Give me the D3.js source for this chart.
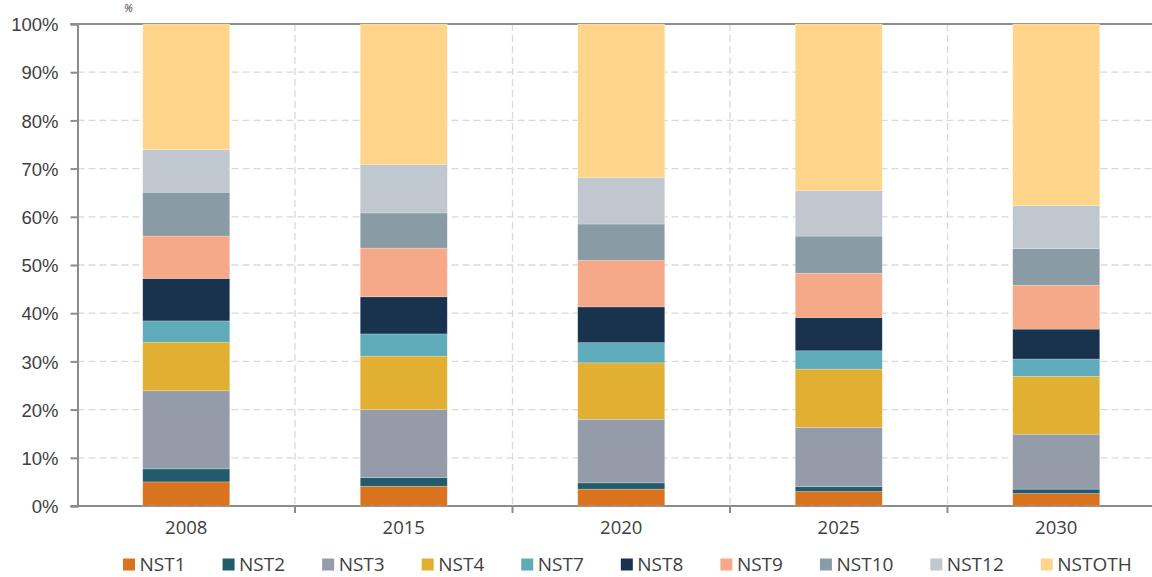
<!DOCTYPE html>
<html>
<head>
<meta charset="utf-8">
<script src="https://cdn.jsdelivr.net/npm/d3@7"></script>
<style>
  body { margin: 0; background: #fff; }
  svg { display: block; font-family: "Open Sans", sans-serif; }
</style>
</head>
<body>
<svg id="chart" width="1152" height="577"></svg>
<script>
// chart data (shares in %)
const years = ["2008", "2015", "2020", "2025", "2030"];
const seriesNames = ["NST1", "NST2", "NST3", "NST4", "NST7", "NST8", "NST9", "NST10", "NST12", "NSTOTH"];
const nst1 = [5.0, 4.1, 3.5, 3.0, 2.6];
const nst2 = [2.7, 1.8, 1.3, 1.0, 0.9];
const nst3 = [16.2, 14.1, 13.2, 12.3, 11.4];
const nst4 = [10.1, 11.1, 11.7, 12.1, 12.0];
const nst7 = [4.4, 4.6, 4.2, 3.8, 3.6];
const nst8 = [8.8, 7.7, 7.4, 6.9, 6.2];
const nst9 = [8.8, 10.1, 9.7, 9.2, 9.1];
const nst10 = [9.1, 7.3, 7.5, 7.7, 7.6];
const nst12 = [8.8, 10.0, 9.6, 9.4, 8.9];
const nstoth = [26.1, 29.2, 31.9, 34.6, 37.7];
const yTicks = [0, 10, 20, 30, 40, 50, 60, 70, 80, 90, 100];

const colors = ["#da731d", "#235b6e", "#939ca8", "#e1b033", "#5fabba",
                "#19334f", "#f5a988", "#899ca6", "#c0c7ce", "#fed58b"];

const seriesValues = [nst1, nst2, nst3, nst4, nst7, nst8, nst9, nst10, nst12, nstoth];

// build rows for d3.stack
const rows = years.map((yr, i) => {
  const r = { year: yr };
  seriesNames.forEach((s, j) => { r[s] = seriesValues[j][i]; });
  return r;
});

const svg = d3.select("#chart");
const plotLeft = 77.5, plotRight = 1165, plotTop = 24, plotBottom = 506;
const axisColor = "#8c8c8c";
const textColor = "#404040";

const x = d3.scaleBand().domain(years).range([plotLeft, plotRight])
  .paddingInner(0.6).paddingOuter(0.3);
const y = d3.scaleLinear().domain([0, 100]).range([plotBottom, plotTop]);

// horizontal dashed gridlines
svg.append("g")
  .selectAll("line")
  .data(yTicks.filter(d => d > 0 && d < 100))
  .join("line")
  .attr("x1", plotLeft).attr("x2", 1152)
  .attr("y1", d => y(d)).attr("y2", d => y(d))
  .attr("stroke", "#d9d9d9")
  .attr("stroke-width", 1.3)
  .attr("stroke-dasharray", "7,4");

// vertical dashed gridlines at category boundaries
const boundaries = years.slice(1).map(d => x(d) - x.step() * x.paddingInner() / 2);
svg.append("g")
  .selectAll("line")
  .data(boundaries)
  .join("line")
  .attr("x1", d => d).attr("x2", d => d)
  .attr("y1", plotTop).attr("y2", plotBottom)
  .attr("stroke", "#d9d9d9")
  .attr("stroke-width", 1.3)
  .attr("stroke-dasharray", "7,4");

// top border and x axis line
svg.append("line")
  .attr("x1", plotLeft - 7).attr("x2", 1152)
  .attr("y1", plotTop).attr("y2", plotTop)
  .attr("stroke", axisColor).attr("stroke-width", 2);

svg.append("line")
  .attr("x1", plotLeft - 7).attr("x2", 1152)
  .attr("y1", plotBottom).attr("y2", plotBottom)
  .attr("stroke", axisColor).attr("stroke-width", 2);

// stacked bars
const stack = d3.stack().keys(seriesNames);
const stacked = stack(rows);

svg.append("g")
  .selectAll("g")
  .data(stacked)
  .join("g")
  .attr("fill", (d, i) => colors[i])
  .selectAll("rect")
  .data(d => d)
  .join("rect")
  .attr("x", d => x(d.data.year))
  .attr("width", x.bandwidth())
  .attr("y", d => y(d[1]))
  .attr("height", d => y(d[0]) - y(d[1]))
  .attr("stroke", "rgba(255,255,255,0.35)")
  .attr("stroke-width", 0.6);

// dashed baseline over the bars
svg.append("line")
  .attr("x1", plotLeft).attr("x2", 1152)
  .attr("y1", plotBottom).attr("y2", plotBottom)
  .attr("stroke", axisColor).attr("stroke-width", 1)
  .attr("stroke-dasharray", "6,5");

// y axis
const yAxis = d3.axisLeft(y)
  .tickValues(yTicks)
  .tickFormat(d => d + "%")
  .tickSize(7)
  .tickPadding(12);

const yG = svg.append("g")
  .attr("transform", `translate(${plotLeft},0)`)
  .call(yAxis);
yG.select(".domain").attr("stroke", axisColor).attr("stroke-width", 2);
yG.selectAll(".tick line").attr("stroke", axisColor).attr("stroke-width", 2);
yG.selectAll(".tick text")
  .attr("fill", textColor)
  .style("font-size", "18.5px")
  .attr("dy", "0.36em");

// x axis ticks at category boundaries
svg.append("g")
  .selectAll("line")
  .data(boundaries)
  .join("line")
  .attr("x1", d => d).attr("x2", d => d)
  .attr("y1", plotBottom).attr("y2", plotBottom + 7)
  .attr("stroke", axisColor).attr("stroke-width", 2);

svg.append("g")
  .selectAll("text")
  .data(years)
  .join("text")
  .attr("x", d => x(d) + x.bandwidth() / 2)
  .attr("y", 533.5)
  .attr("text-anchor", "middle")
  .attr("fill", textColor)
  .style("font-size", "18.5px")
  .text(d => d);

// unit label at the top left
svg.append("text")
  .attr("x", 124).attr("y", 12)
  .attr("fill", textColor)
  .style("font-size", "11px")
  .style("font-style", "italic")
  .text("%");

// legend
const legend = svg.append("g");
let lx = 123;
seriesNames.forEach((s, i) => {
  const item = legend.append("g").attr("transform", `translate(${lx},0)`);
  item.append("rect")
    .attr("x", 0).attr("y", 558.5)
    .attr("width", 12).attr("height", 12)
    .attr("fill", colors[i]);
  const t = item.append("text")
    .attr("x", 16.5).attr("y", 571)
    .attr("fill", textColor)
    .style("font-size", "19px")
    .text(s);
  lx += 12 + 4.5 + t.node().getComputedTextLength() + 37;
});
</script>
</body>
</html>
